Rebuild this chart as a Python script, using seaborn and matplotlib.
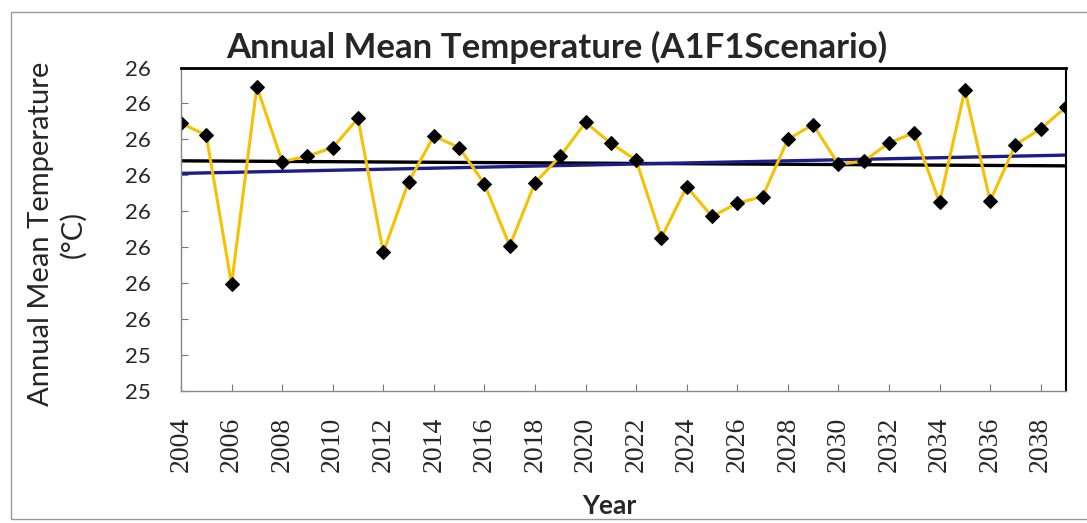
"""Annual mean temperature, A1F1 scenario, 2004-2039, with two trend lines."""
import numpy as np
import pandas as pd
import matplotlib.pyplot as plt
import seaborn as sns
from matplotlib.patches import Rectangle

# ----------------------------------------------------------------------
# Data
# ----------------------------------------------------------------------
years = list(range(2004, 2040))
temps = [
    26.045, 26.011, 25.596, 26.147, 25.938, 25.953, 25.977, 26.058,
    25.685, 25.881, 26.009, 25.977, 25.876, 25.703, 25.879, 25.953,
    26.047, 25.989, 25.942, 25.726, 25.868, 25.785, 25.822, 25.840,
    26.000, 26.041, 25.930, 25.939, 25.990, 26.018, 25.824, 26.138,
    25.828, 25.985, 26.029, 26.090,
]
trend_years = [2004, 2039]
trend_black = [25.940, 25.926]
trend_blue = [25.905, 25.956]

y_ticks = list(np.round(np.arange(25.3, 26.25, 0.1), 1))
y_labels = [str(int(t + 0.5 + 1e-9)) for t in y_ticks]   # Excel style 0-dp
x_ticks = list(range(2004, 2040, 2))

df = pd.DataFrame({"Year": years, "Temp": temps})
tb = pd.DataFrame({"Year": trend_years, "Temp": trend_black})
tu = pd.DataFrame({"Year": trend_years, "Temp": trend_blue})

# ----------------------------------------------------------------------
# Plot
# ----------------------------------------------------------------------
sns.set_style("white")
plt.rcParams["font.family"] = ["Lato", "DejaVu Sans"]
plt.rcParams["xtick.direction"] = "in"
plt.rcParams["ytick.direction"] = "in"

fig = plt.figure(figsize=(10.87, 5.23), dpi=100)
fig.patch.set_facecolor("white")
ax = fig.add_axes([0.1665, 0.2533, 0.8142, 0.6176])

sns.lineplot(data=tb, x="Year", y="Temp", color="black", linewidth=2.4, ax=ax)
sns.lineplot(data=tu, x="Year", y="Temp", color="#1c1c8a", linewidth=2.4, ax=ax)
sns.lineplot(data=df, x="Year", y="Temp", color="#f5c100", linewidth=2.2,
             marker="D", markersize=7, markerfacecolor="black",
             markeredgecolor="black", ax=ax)

ax.set_xlim(2004, 2039)
ax.set_ylim(25.3, 26.2)
ax.set_xticks(x_ticks)
ax.set_xticklabels([str(x) for x in x_ticks], rotation=90,
                   rotation_mode="anchor", ha="right", va="center",
                   family="Liberation Serif", fontsize=20)
ax.set_yticks(y_ticks)
ax.set_yticklabels(y_labels, fontsize=16)
ax.tick_params(axis="both", direction="in", length=5, width=0.8,
               color="#777777", bottom=True, left=True)
ax.tick_params(axis="x", pad=19)
ax.tick_params(axis="y", pad=22)

for side in ["left", "bottom"]:
    ax.spines[side].set_color("#888888")
    ax.spines[side].set_linewidth(1.0)
ax.spines["top"].set_color("black")
ax.spines["top"].set_linewidth(2.0)
ax.spines["right"].set_color("black")
ax.spines["right"].set_linewidth(1.5)

ax.set_xlabel("Year", fontsize=19, fontweight="bold")
ax.xaxis.set_label_coords(0.4845, -0.32)
ax.set_ylabel("Annual Mean Temperature\n(°C)", fontsize=21,
              linespacing=1.25)
ax.yaxis.set_label_coords(-0.107, 0.4845)
fig.text(557 / 1087, 1 - 47 / 523, "Annual Mean Temperature (A1F1Scenario)",
         fontsize=25, fontweight="bold", ha="center", va="center")

# Outer chart border (right edge runs past the image)
fig.patches.append(Rectangle((11 / 1087, 4 / 523), 1090 / 1087, 507 / 523,
                             transform=fig.transFigure, fill=False,
                             edgecolor="#999999", linewidth=1.0))

fig.savefig("out.png", dpi=100, facecolor="white")
plt.close(fig)
